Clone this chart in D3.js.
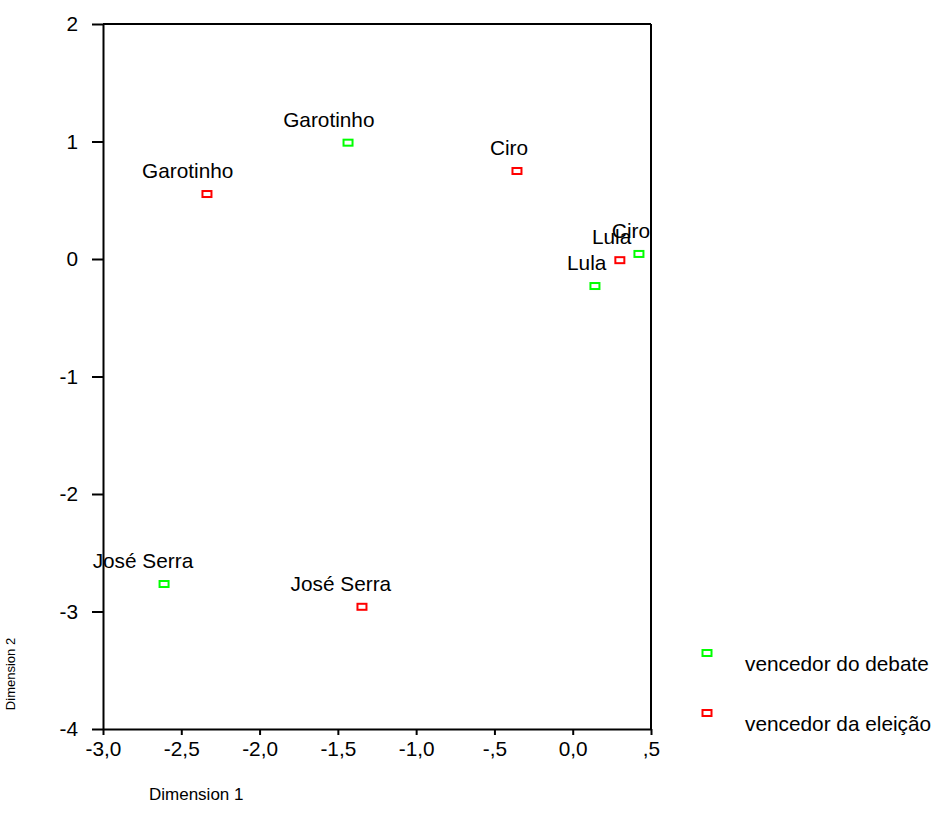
<!DOCTYPE html>
<html><head><meta charset="utf-8">
<script src="https://cdn.jsdelivr.net/npm/d3@7"></script>
<style>body{margin:0;background:#fff}text{font-family:"Liberation Sans",Arial,sans-serif;fill:#000}</style>
</head><body>
<svg id="c" width="936" height="831"></svg>
<script>
const names = ["Garotinho","Ciro","Lula","José Serra"];
const debateX = [-1.435, 0.423, 0.142, -2.61];
const debateY = [0.99, 0.043, -0.23, -2.766];
const electionX = [-2.336, -0.356, 0.301, -1.346];
const electionY = [0.553, 0.749, -0.01, -2.96];
const xTicks = [-3.0,-2.5,-2.0,-1.5,-1.0,-0.5,0.0,0.5];
const xTickLabels = ["-3,0","-2,5","-2,0","-1,5","-1,0","-,5","0,0",",5"];
const yTicks = [-4,-3,-2,-1,0,1,2];
const seriesNames = ["vencedor do debate","vencedor da eleição"];
const seriesColors = ["#00ff00","#ff0000"];

const svg = d3.select("#c");
const L=103,R=651,T=24,B=729;
const x = d3.scaleLinear().domain([-3,0.5]).range([L,R]);
const y = d3.scaleLinear().domain([-4,2]).range([B,T]);
const FS = "20.8px";

// frame
svg.append("line").attr("x1",L).attr("x2",R).attr("y1",T).attr("y2",T).attr("stroke","#000").attr("stroke-width",2);
svg.append("line").attr("x1",R).attr("x2",R).attr("y1",T).attr("y2",B).attr("stroke","#000").attr("stroke-width",2);

const xAxis = d3.axisBottom(x).tickValues(xTicks).tickFormat((d,i)=>xTickLabels[i]).tickSizeInner(6).tickSizeOuter(0).tickPadding(6);
const gx = svg.append("g").attr("transform",`translate(0,${B})`).call(xAxis);
const yAxis = d3.axisLeft(y).tickValues(yTicks).tickFormat(d=>String(d)).tickSizeInner(11).tickSizeOuter(0).tickPadding(14);
const gy = svg.append("g").attr("transform",`translate(${L},0)`).call(yAxis);
[gx,gy].forEach(g=>{
  g.select(".domain").attr("stroke","#000").attr("stroke-width",2);
  g.selectAll(".tick line").attr("stroke","#000").attr("stroke-width",2);
  g.selectAll(".tick text").style("font-size",FS).attr("fill","#000").style("font-family","Liberation Sans, Arial");
});
gx.selectAll(".tick text").attr("dy","0.72em");

const pts = [];
names.forEach((n,i)=>pts.push({n, x:debateX[i], y:debateY[i], s:0}));
names.forEach((n,i)=>pts.push({n, x:electionX[i], y:electionY[i], s:1}));

const mw=9, mh=6;
svg.selectAll("rect.pt").data(pts).enter().append("rect").attr("class","pt")
  .attr("x",d=>x(d.x)-mw/2).attr("y",d=>y(d.y)-mh/2).attr("width",mw).attr("height",mh)
  .attr("fill","none").attr("stroke",d=>seriesColors[d.s]).attr("stroke-width",2);

svg.selectAll("text.lab").data(pts).enter().append("text").attr("class","lab")
  .attr("x",d=>x(d.x)).attr("y",d=>y(d.y)-16).attr("text-anchor","middle")
  .style("font-size",FS).text(d=>d.n)
  .each(function(d){const w=this.getComputedTextLength(); d3.select(this).attr("x",x(d.x)-0.21*w);});

// legend
seriesNames.forEach((s,i)=>{
  const cy = 653 + i*60;
  svg.append("rect").attr("x",707-mw/2).attr("y",cy-mh/2).attr("width",mw).attr("height",mh)
    .attr("fill","none").attr("stroke",seriesColors[i]).attr("stroke-width",2);
  svg.append("text").attr("x",745).attr("y",cy+18).style("font-size",FS).text(s);
});

svg.append("text").attr("x",149).attr("y",800).style("font-size","17px").text("Dimension 1");
svg.append("text").attr("transform","translate(15,674) rotate(-90)").attr("text-anchor","middle").style("font-size","13px").text("Dimension 2");
</script>
</body></html>
